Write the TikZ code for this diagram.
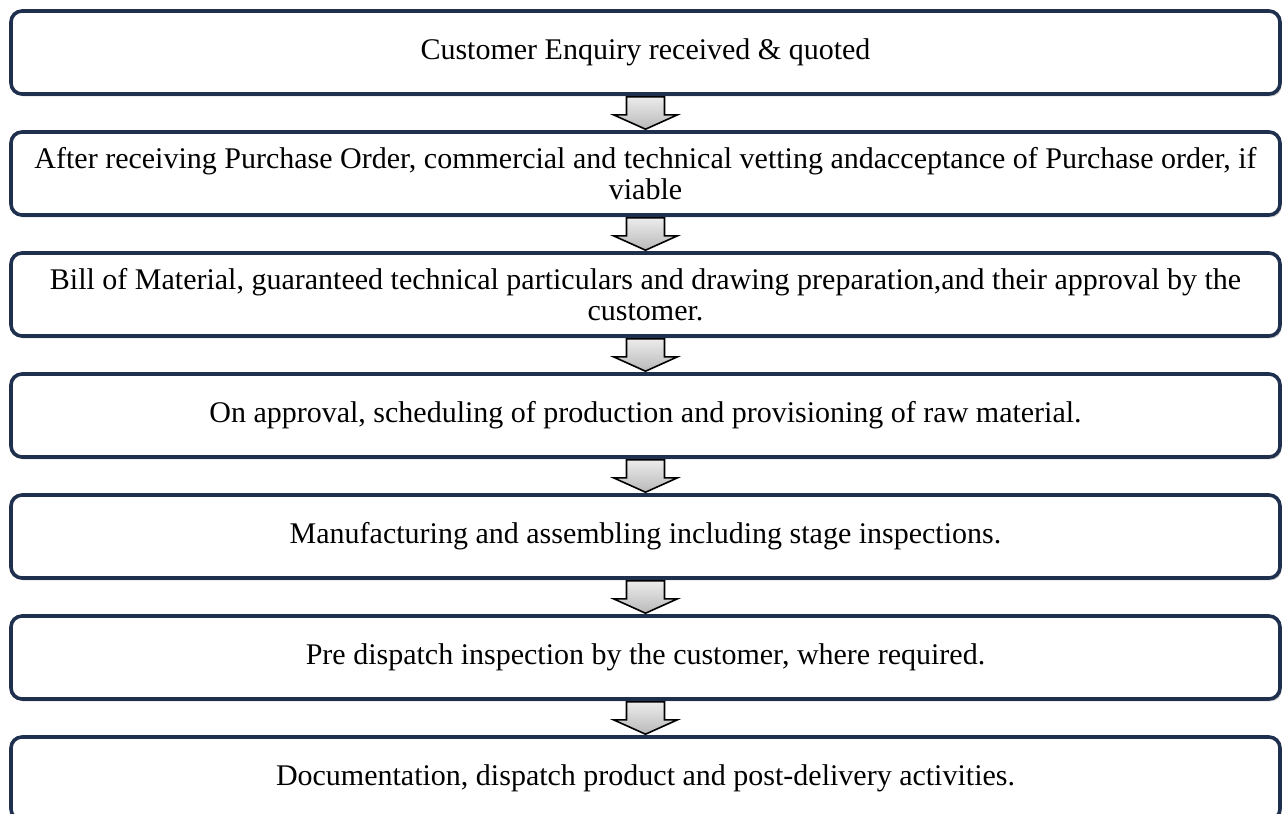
\documentclass[tikz,border=0pt]{standalone}
\usepackage{fontspec}
\setmainfont{Liberation Serif}
\usetikzlibrary{calc,shadows}
\definecolor{flowNavy}{RGB}{30,48,78}
\definecolor{flowShadow}{RGB}{140,140,140}

\begin{document}
\begin{tikzpicture}[x=0.5pt,y=-0.5pt]
                    \tikzstyle{stage} = [draw=flowNavy, line width=1.8pt, rounded corners=5.5pt, fill=white, minimum width=634.5pt, minimum height=41.5pt, inner xsep=2pt, align=center, font=\fontsize{15}{15.5}\selectfont, drop shadow={shadow xshift=0.8pt, shadow yshift=-1.2pt, opacity=0.45, fill=flowShadow}]
                    \tikzstyle{downarrow} = [draw=black, line width=0.8pt, line join=miter, top color=gray!15, bottom color=gray!55]
                    \useasboundingbox (0,0) rectangle (1282,814);
                    \node[stage] (b1) at (645.5,52.5) {Customer Enquiry received \& quoted};
                    \node[stage] (b2) at (645.5,173.5) {After receiving Purchase Order, commercial and technical vetting andacceptance of Purchase order, if\\ viable};
                    \node[stage] (b3) at (645.5,294.5) {Bill of Material, guaranteed technical particulars and drawing preparation,and their approval by the\\ customer.};
                    \node[stage] (b4) at (645.5,415.5) {On approval, scheduling of production and provisioning of raw material.};
                    \node[stage] (b5) at (645.5,536.5) {Manufacturing and assembling including stage inspections.};
                    \node[stage] (b6) at (645.5,657.5) {Pre dispatch inspection by the customer, where required.};
                    \node[stage] (b7) at (645.5,778.5) {Documentation, dispatch product and post-delivery activities.};
                    % block arrows between the stages
                    \foreach \i [evaluate=\i as \j using int(\i+1)] in {1,...,6}
                        \draw[downarrow] ($(b\i.south)+(-19,1)$) -- ($(b\i.south)+(19,1)$) -- ($(b\i.south)+(19,19)$) -- ($(b\i.south)+(32,19)$) -- ($(b\j.north)+(0,-1)$) -- ($(b\i.south)+(-32,19)$) -- ($(b\i.south)+(-19,19)$) -- cycle;
                \end{tikzpicture}
\end{document}
